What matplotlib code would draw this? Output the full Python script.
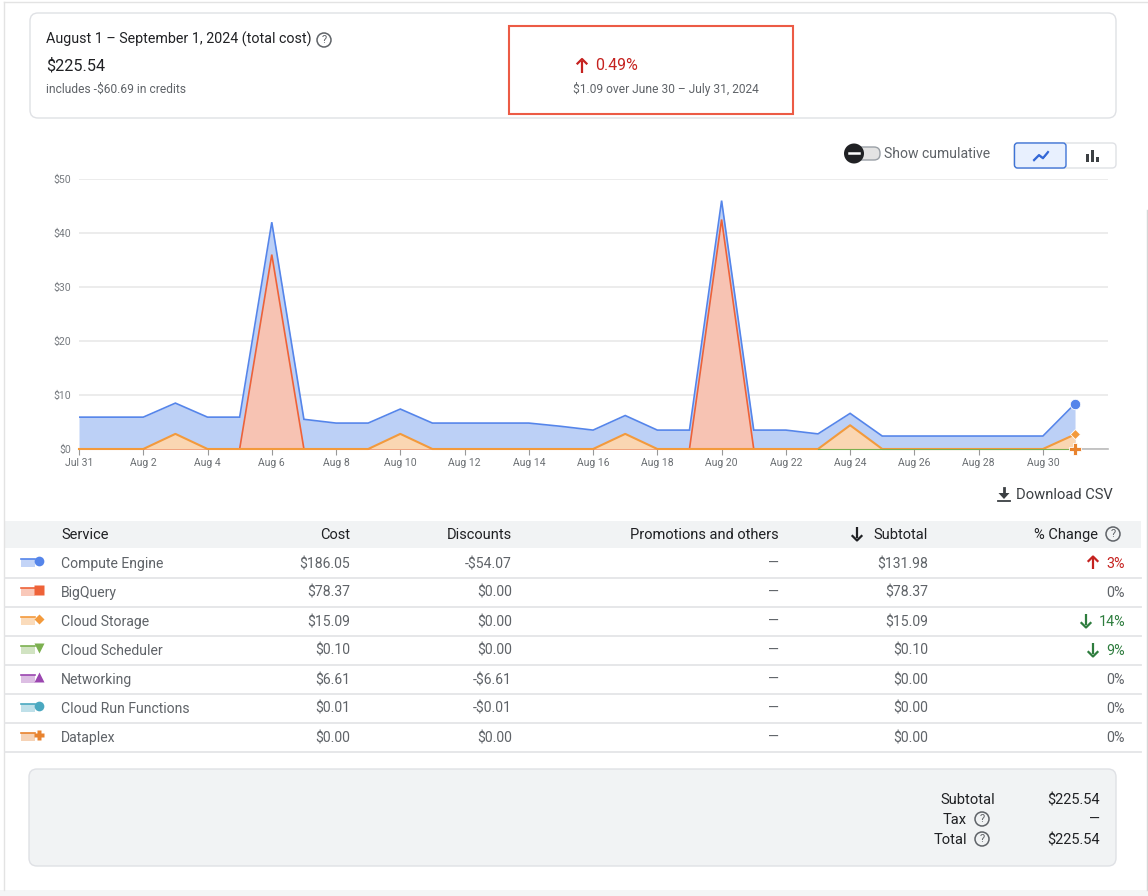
"""Billing report screen: cost summary, daily cost chart and service table."""

import matplotlib.pyplot as plt
from matplotlib.patches import Circle, FancyBboxPatch, Polygon, Rectangle

plt.rcParams["font.family"] = ["Roboto", "DejaVu Sans"]

W, H = 1148, 896

# Daily values, Jul 31 to Aug 31
DAYS = list(range(32))
COMPUTE = [5.9, 5.9, 5.9, 8.5, 5.9, 5.9, 42.0, 5.5, 4.8, 4.8, 7.4, 4.8, 4.8, 4.8, 4.8, 4.2,
           3.5, 6.2, 3.5, 3.5, 46.0, 3.5, 3.5, 2.8, 6.6, 2.4, 2.4, 2.4, 2.4, 2.4, 2.4, 8.4]
BIGQUERY = [0, 0, 0, 0, 0, 0, 36.0, 0, 0, 0, 0, 0, 0, 0, 0, 0,
            0, 0, 0, 0, 42.5, 0, 0, 0, 0, 0, 0, 0, 0, 0, 0, 0]
STORAGE = [0, 0, 0, 2.8, 0, 0, 0, 0, 0, 0, 2.8, 0, 0, 0, 0, 0,
           0, 2.8, 0, 0, 0, 0, 0, 0, 4.4, 0, 0, 0, 0, 0, 0, 2.7]
# Only visible as a thin line along the baseline from Aug 23 on
SCHEDULER_DAYS = [23, 24, 25, 26, 27, 28, 29, 30, 31]
SCHEDULER = [0, 0, 0, 0, 0, 0, 0, 0, 0]

TICK_DAYS = list(range(0, 31, 2))
TICK_LABELS = ["Jul 31", "Aug 2", "Aug 4", "Aug 6", "Aug 8", "Aug 10", "Aug 12", "Aug 14",
               "Aug 16", "Aug 18", "Aug 20", "Aug 22", "Aug 24", "Aug 26", "Aug 28", "Aug 30"]
Y_TICKS = [0, 10, 20, 30, 40, 50]

SERVICES = ["Compute Engine", "BigQuery", "Cloud Storage", "Cloud Scheduler",
            "Networking", "Cloud Run Functions", "Dataplex"]
COST = ["$186.05", "$78.37", "$15.09", "$0.10", "$6.61", "$0.01", "$0.00"]
DISCOUNTS = ["-$54.07", "$0.00", "$0.00", "$0.00", "-$6.61", "-$0.01", "$0.00"]
SUBTOTAL = ["$131.98", "$78.37", "$15.09", "$0.10", "$0.00", "$0.00", "$0.00"]
CHANGE = ["3%", "0%", "14%", "9%", "0%", "0%", "0%"]
CHANGE_DIR = [1, 0, -1, -1, 0, 0, 0]

BLUE = "#5585ea"
RED = "#ee6238"
ORANGE = "#f39a3c"
GREEN = "#7cb050"
PURPLE = "#9b46b0"
TEAL = "#4aa8c0"
DARK_ORANGE = "#e8832e"
BLUE_FILL = "#bcd0f6"
RED_FILL = "#f7c3b3"
ORANGE_FILL = "#fad6b2"
COLORS = [BLUE, RED, ORANGE, GREEN, PURPLE, TEAL, DARK_ORANGE]
MARKERS = ["o", "s", "D", "v", "^", "o", "P"]

INK = "#202124"
GREY = "#5f6368"
LINE = "#dfe1e5"

fig = plt.figure(figsize=(W / 100, H / 100), dpi=100)

# Overlay in pixel coordinates for the page furniture
page = fig.add_axes([0, 0, 1, 1])
page.set_xlim(0, W)
page.set_ylim(H, 0)
page.axis("off")


def txt(x, y, s, size=14, color=GREY, ha="left", **kw):
    # size is in pixels
    page.text(x, y + 1, s, fontsize=size * 0.72, color=color, ha=ha, va="center", **kw)


def card(x0, y0, x1, y1, face="white", edge=LINE, lw=1.0, r=8, z=1):
    page.add_patch(FancyBboxPatch((x0 + r, y0 + r), x1 - x0 - 2 * r, y1 - y0 - 2 * r,
                                  boxstyle=f"round,pad={r}", fc=face, ec=edge, lw=lw, zorder=z))


def help_icon(x, y):
    page.add_patch(Circle((x, y), 7, fc="none", ec=GREY, lw=1.1, zorder=3))
    txt(x, y - 0.7, "?", size=11, ha="center", zorder=3)


def arrow(x, y, direction, color, size=6):
    # direction 1 is up, -1 is down; y is the centre in pixels
    tip = y - direction * size
    tail = y + direction * size
    page.plot([x, x], [tail, tip + direction * 2], color=color, lw=1.6, solid_capstyle="butt", zorder=3)
    page.plot([x - 4.5, x, x + 4.5], [tip + direction * 4.5, tip, tip + direction * 4.5],
              color=color, lw=1.6, zorder=3)


# Page edges
page.plot([4, 4], [2, 890], color="#e3e3e3", lw=1)
page.plot([4, W], [2, 2], color="#e3e3e3", lw=1)
page.plot([1147, 1147], [210, 890], color="#d5d5d5", lw=1)
page.add_patch(Rectangle((0, 890), W, 6, fc="#f4f5f6", ec="none"))

# Summary card
card(30, 13, 1116, 118)
txt(46, 38.5, "August 1 – September 1, 2024 (total cost)", size=14.2, color=INK)
help_icon(324, 40)
txt(46, 65, "$225.54", size=16.3, color=INK)
txt(46, 88.5, "includes -$60.69 in credits", size=12)
page.add_patch(Rectangle((508.5, 26.5), 284.5, 87.5, fc="none", ec="#ec5b45", lw=1.5, zorder=4))
arrow(582, 66, 1, "#c5221f", size=7)
txt(595, 65, "0.49%", size=16, color="#c5221f")
txt(573, 88.5, "$1.09 over June 30 – July 31, 2024", size=12)

# Cumulative toggle
card(852, 147, 880, 160, face="#e3e3e3", edge="#9aa0a6", r=6, z=2)
page.add_patch(Circle((854, 153.5), 10, fc=INK, ec="none", zorder=3))
page.plot([849, 859], [153.5, 153.5], color="white", lw=1.8, zorder=4)
txt(884, 153, "Show cumulative", size=14)

# Line / bar switch
card(1014, 143, 1116, 168, r=4, z=2)
card(1014.5, 143, 1066, 168, face="#e8f0fe", edge="#3f74d6", r=3, z=3)
page.plot([1034, 1039, 1043, 1048], [160, 155, 158, 152], color="#3367d6", lw=1.5, zorder=4)
page.plot([1034, 1039, 1043, 1048], [161, 156, 159, 153], color="#3367d6", lw=0.6, zorder=4)
page.add_patch(Rectangle((1085.5, 154), 3, 8, fc="#3c4043", ec="none", zorder=4))
page.add_patch(Rectangle((1090.5, 150), 3, 12, fc="#3c4043", ec="none", zorder=4))
page.add_patch(Rectangle((1095.5, 157), 3, 5, fc="#3c4043", ec="none", zorder=4))

# Daily cost chart: one day is 32.13 px, from x=79 to the end of the grid at x=1108
ax = fig.add_axes([79 / W, 1 - 449 / H, (1108 - 79) / W, (449 - 179) / H])
ax.patch.set_alpha(0)
ax.set_xlim(0, (1108 - 79) / 32.13)
ax.set_ylim(0, 50)
ax.fill_between(DAYS, COMPUTE, color=BLUE_FILL, lw=0, zorder=2)
ax.plot(DAYS, COMPUTE, color=BLUE, lw=1.2, zorder=3, solid_joinstyle="miter")
ax.fill_between(DAYS, BIGQUERY, color=RED_FILL, lw=0, zorder=4)
ax.plot(DAYS, BIGQUERY, color=RED, lw=1.2, zorder=5, clip_on=False, solid_joinstyle="miter")
ax.fill_between(DAYS, STORAGE, color=ORANGE_FILL, lw=0, zorder=6)
ax.plot(DAYS, STORAGE, color=ORANGE, lw=1.5, zorder=7, clip_on=False)
ax.plot(SCHEDULER_DAYS, SCHEDULER, color=GREEN, lw=0.8, zorder=8, clip_on=False)
ax.plot(DAYS[-1], COMPUTE[-1], "o", color=BLUE, ms=7.5, mec="white", mew=0.6, zorder=9)
ax.plot(DAYS[-1], STORAGE[-1], "D", color=ORANGE, ms=5.5, mec="white", mew=0.6, zorder=9)
ax.plot(DAYS[-1], 0, "P", color=DARK_ORANGE, ms=8.5, mec="white", mew=0.6, zorder=9, clip_on=False)
ax.set_yticks(Y_TICKS)
ax.set_yticklabels([f"${v}" for v in Y_TICKS], fontsize=7.6, color="#777b80")
ax.set_xticks(TICK_DAYS)
ax.set_xticklabels(TICK_LABELS, fontsize=7.5, color="#6b6f73")
ax.tick_params(axis="y", length=0, pad=5.5)
ax.tick_params(axis="x", length=4, width=0.8, color="#999999", pad=2.5)
ax.grid(axis="y", color="#ebebeb", lw=1.3, zorder=1)
ax.set_axisbelow(True)
for name in ("top", "right", "left"):
    ax.spines[name].set_visible(False)
ax.spines["bottom"].set_color("#bbbbbb")
ax.spines["bottom"].set_linewidth(1.2)

# Download link
page.plot([1004, 1004], [488, 495], color="#3c4043", lw=2)
page.add_patch(Polygon([[998.5, 493], [1009.5, 493], [1004, 499]], fc="#3c4043", ec="none"))
page.plot([998, 1010], [501.5, 501.5], color="#3c4043", lw=1.3)
txt(1016, 494, "Download CSV", size=14.8, color="#3c4043")

# Table header
page.add_patch(Rectangle((5, 521), 1136, 27, fc="#f1f3f4", ec="none"))
HEAD_Y = 534
txt(61, HEAD_Y, "Service", size=14.6, color=INK)
txt(350, HEAD_Y, "Cost", size=14.6, color=INK, ha="right")
txt(512, HEAD_Y, "Discounts", size=14.6, color=INK, ha="right")
txt(779, HEAD_Y, "Promotions and others", size=14.6, color=INK, ha="right")
txt(928, HEAD_Y, "Subtotal", size=14.6, color=INK, ha="right")
arrow(857, HEAD_Y, -1, INK, size=6.5)
txt(1098, HEAD_Y, "% Change", size=14.6, color=INK, ha="right")
help_icon(1113, HEAD_Y)

# Table rows
for i, service in enumerate(SERVICES):
    y = 563 + 29 * i
    page.plot([5, 1141], [y + 15, y + 15], color="#e4e5e7", lw=1.3)
    col = COLORS[i]
    page.add_patch(Rectangle((21, y - 3.5), 14, 8, fc=col, ec="none", alpha=0.35))
    page.plot([21, 35], [y - 3.5, y - 3.5], color=col, lw=1.2)
    page.plot([39], [y - 2], MARKERS[i], color=col, ms=5.5 if i == 2 else 7, mec="none")
    txt(61, y, service)
    txt(350, y, COST[i], ha="right")
    txt(512, y, DISCOUNTS[i], ha="right")
    txt(779, y, "—", ha="right")
    txt(928, y, SUBTOTAL[i], ha="right")
    change_col = {1: "#c5221f", 0: GREY, -1: "#2e7d3e"}[CHANGE_DIR[i]]
    txt(1125, y, CHANGE[i], size=14.3, color=change_col, ha="right")
    if CHANGE_DIR[i]:
        offset = 32 if len(CHANGE[i]) == 2 else 39
        arrow(1125 - offset, y, CHANGE_DIR[i], change_col, size=6.5)

# Totals card
card(29, 769, 1116, 866, face="#f1f3f4")
txt(995, 799, "Subtotal", size=14.8, color=INK, ha="right", zorder=3)
txt(1100, 799, "$225.54", size=14.6, color=INK, ha="right", zorder=3)
txt(967, 819, "Tax", size=14.8, color=INK, ha="right", zorder=3)
help_icon(982, 819)
txt(1100, 819, "—", color=INK, ha="right", zorder=3)
txt(967, 839, "Total", size=14.8, color=INK, ha="right", zorder=3)
help_icon(982, 839)
txt(1100, 839, "$225.54", size=14.6, color=INK, ha="right", zorder=3)

fig.savefig("out.png", dpi=100)
